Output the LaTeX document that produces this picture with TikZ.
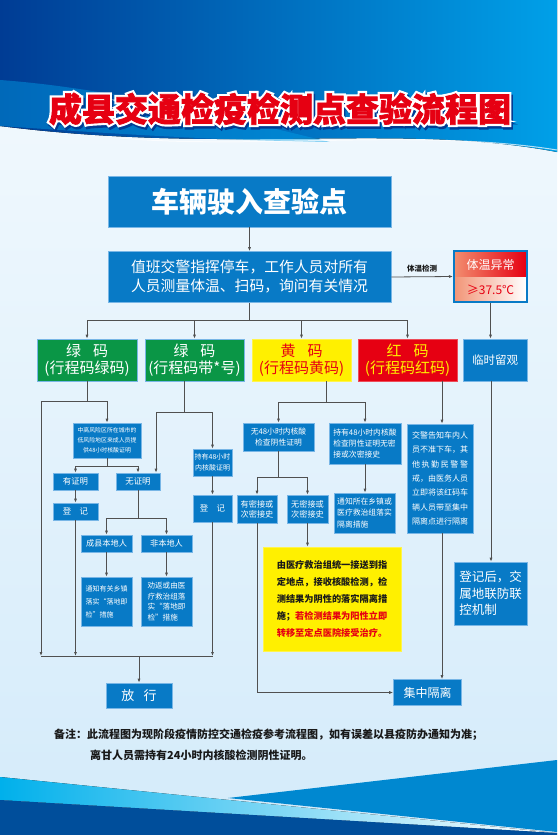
\documentclass[tikz,border=0pt]{standalone}
\usepackage{fontspec}
\setmainfont{Noto Sans CJK SC}
\newfontfamily\titleout{Noto Sans CJK SC}[BoldFeatures={FakeBold=15}]
\newfontfamily\titlein{Noto Sans CJK SC}[BoldFeatures={FakeBold=2}]
\usetikzlibrary{arrows.meta,calc}
\definecolor{bx}{RGB}{8,122,198}
\definecolor{bxe}{RGB}{120,182,230}
\definecolor{gr}{RGB}{10,150,70}
\definecolor{ye}{RGB}{255,240,0}
\definecolor{rd}{RGB}{230,0,18}
\definecolor{lnc}{RGB}{80,80,80}
\definecolor{hd1}{RGB}{0,60,148}
\definecolor{hd2}{RGB}{0,160,232}
\definecolor{bg1}{RGB}{244,250,254}
\definecolor{bg2}{RGB}{212,235,250}
\definecolor{txt}{RGB}{25,25,25}
\begin{document}
\begin{tikzpicture}[x=1pt,y=-1pt,
  box/.style={draw=bxe, line width=0.6pt, fill=bx, text=white, inner sep=0pt, align=center, anchor=center},
  arr/.style={draw=lnc, line width=0.8pt, -{Latex[length=4pt,width=3pt]}},
  wire/.style={draw=lnc, line width=0.8pt},
  codefont/.style={font=\fontsize{15}{17}\selectfont}
]
\useasboundingbox (0,0) rectangle (557,835);
% background
\fill[top color=bg1, bottom color=bg2] (0,0) rectangle (557,835);
% header
\fill[left color=hd1, right color=hd2] (0,0) -- (557,0) -- (557,152) .. controls (400,122) and (230,155) .. (0,126) -- cycle;
\fill[color=hd2, opacity=0.45] (0,80) .. controls (110,88) and (230,118) .. (330,142) .. controls (200,140) and (90,132) .. (0,126) -- cycle;
\draw[white, opacity=0.7, line width=1pt] (120,138) .. controls (250,150) and (420,128) .. (557,150);
% bottom waves
\fill[color={rgb,255:red,0;green,136;blue,208}] (557,760) -- (228,798) -- (557,832) -- cycle;
\fill[left color={rgb,255:red,0;green,176;blue,235}, right color=white] (0,777) -- (557,833) -- (0,800) -- cycle;
\fill[color={rgb,255:red,0;green,78;blue,155}] (0,800) -- (557,833) -- (557,835) -- (0,835) -- cycle;

% title
\node[text=hd1, font=\fontsize{33}{33}\titleout\bfseries] (tshadow) at (281.5,111.5) {成县交通检疫检测点查验流程图};
\node[text=white, font=\fontsize{33}{33}\titleout\bfseries] (toutline) at (280,109) {成县交通检疫检测点查验流程图};
\node[text=rd, font=\fontsize{33}{33}\titlein\bfseries] (title) at (280,109) {成县交通检疫检测点查验流程图};

% top boxes
\node[box, minimum width=283pt, minimum height=51pt, font=\fontsize{28}{28}\bfseries] (start) at (249.5,201.5) {车辆驶入查验点};
\node[box, minimum width=283pt, minimum height=51pt, font=\fontsize{14.8}{19}\selectfont] (check) at (249.5,277) {值班交警指挥停车，工作人员对所有\\人员测量体温、扫码，询问有关情况};
\draw[arr] (start.south) -- (check.north);

% temperature box
\fill[left color={rgb,255:red,242;green,140;blue,110}, right color=rd] (455,252) rectangle (526,277);
\fill[left color={rgb,255:red,242;green,150;blue,120}, right color=white] (455,277) rectangle (526,301);
\node[draw=bx, line width=2pt, minimum width=73pt, minimum height=51pt, inner sep=0pt] (temp) at (490.5,276.5) {};
\node[text=white, font=\fontsize{12}{12}\selectfont] (tt1) at (490.5,264.5) {体温异常};
\node[text=rd, font=\fontsize{12}{12}\selectfont] (tt2) at (490.5,289.5) {≥37.5℃};
\draw[arr] (check.east) -- (temp.west) node[midway, above=1pt, font=\fontsize{7.5}{8}\bfseries, text=txt] (tlabel) {体温检测};

% code row
\node[box, fill=gr, minimum width=100pt, minimum height=42pt, codefont] (g1) at (87,360) {绿\hspace{0.8em}码\\(行程码绿码)};
\node[box, fill=gr, minimum width=99pt, minimum height=42pt, codefont] (g2) at (194.5,360) {绿\hspace{0.8em}码\\(行程码带*号)};
\node[box, fill=ye, draw=ye!70!white, text=rd, minimum width=99pt, minimum height=42pt, codefont] (yel) at (301.5,360) {黄\hspace{0.8em}码\\(行程码黄码)};
\node[box, fill=rd, draw=rd!70!white, text=ye, minimum width=99pt, minimum height=42pt, codefont] (red) at (407.5,360) {红\hspace{0.8em}码\\(行程码红码)};
\node[box, minimum width=64pt, minimum height=42pt, font=\fontsize{11.5}{14}\selectfont] (obs) at (495,360) {临时留观};

\coordinate (b0) at (249.5,320);
\draw[wire] (check.south) -- (b0);
\draw[wire] (g1.north |- b0) -- (red.north |- b0);
\draw[arr] (g1.north |- b0) -- (g1.north);
\draw[arr] (g2.north |- b0) -- (g2.north);
\draw[arr] (yel.north |- b0) -- (yel.north);
\draw[arr] (red.north |- b0) -- (red.north);
\draw[arr] (temp.south) -- (temp.south |- obs.north);

% green 1 branch
\node[box, minimum width=68pt, minimum height=35pt, font=\fontsize{5.9}{10}\selectfont] (zg) at (107,440.5) {中高风险区所在城市的\\低风险地区来成人员提\\供48小时核酸证明};
\node[box, minimum width=45pt, minimum height=17pt, font=\fontsize{8.4}{10}\selectfont] (yz) at (75.5,481.5) {有证明};
\node[box, minimum width=44pt, minimum height=17pt, font=\fontsize{8.4}{10}\selectfont] (wz) at (138,481.5) {无证明};
\node[box, minimum width=45pt, minimum height=17pt, font=\fontsize{8.4}{10}\selectfont] (dj1) at (75.5,511.5) {登\hspace{1em}记};
\node[box, minimum width=51pt, minimum height=17pt, font=\fontsize{8.2}{10}\selectfont] (local) at (106.5,543.5) {成县本地人};
\node[box, minimum width=51pt, minimum height=17pt, font=\fontsize{8.2}{10}\selectfont] (nonlocal) at (166.5,543.5) {非本地人};
\node[box, minimum width=51pt, minimum height=49pt, align=left, font=\fontsize{7}{13}\selectfont] (lnote) at (106.5,601.5) {通知有关乡镇\\落实“落地即\\检”措施};
\node[box, minimum width=51pt, minimum height=49pt, align=left, font=\fontsize{7.6}{10.7}\selectfont] (nnote) at (166.5,601.5) {劝返或由医\\疗救治组落\\实“落地即\\检”措施};

\coordinate (g1a) at (87,401);
\coordinate (g1l) at (41,401);
\coordinate (busL) at (41,656);
\draw[wire] (g1.south) -- (g1a);
\draw[wire] (g1l) -- (zg.north |- g1a);
\draw[arr] (zg.north |- g1a) -- (zg.north);
\draw[arr] (g1l) -- (busL);
\coordinate (zgb) at (107,466);
\draw[wire] (zg.south) -- (zgb);
\draw[wire] (yz.north |- zgb) -- (wz.north |- zgb);
\draw[arr] (yz.north |- zgb) -- (yz.north);
\draw[arr] (wz.north |- zgb) -- (wz.north);
\draw[arr] (yz.south) -- (dj1.north);
\draw[arr] (dj1.south) -- (dj1.south |- busL);
\coordinate (wzb) at (138,518);
\draw[wire] (wz.south) -- (wzb);
\draw[wire] (local.north |- wzb) -- (nonlocal.north |- wzb);
\draw[arr] (local.north |- wzb) -- (local.north);
\draw[arr] (nonlocal.north |- wzb) -- (nonlocal.north);
\draw[arr] (local.south) -- (lnote.north);
\draw[arr] (nonlocal.south) -- (nnote.north);

% green 2 branch
\node[box, minimum width=39pt, minimum height=27pt, font=\fontsize{7}{11}\selectfont] (c48) at (212.5,462.5) {持有48小时\\内核酸证明};
\node[box, minimum width=39pt, minimum height=27pt, font=\fontsize{8.4}{10}\selectfont] (dj2) at (212.5,508.5) {登\hspace{1em}记};
\coordinate (g2a) at (184,412);
\coordinate (g2l) at (156,412);
\draw[wire] ([xshift=-10.5pt]g2.south) -- (g2a);
\draw[wire] (g2l) -- (c48.north |- g2a);
\draw[arr] (g2l) -- (g2l |- wz.north);
\draw[arr] (c48.north |- g2a) -- (c48.north);
\draw[arr] (c48.south) -- (dj2.north);
\draw[arr] (dj2.south) -- (dj2.south |- busL);

% release
\node[box, minimum width=66pt, minimum height=25pt, font=\fontsize{13}{14}\selectfont] (fx) at (139,695.5) {放\hspace{0.7em}行};
\draw[wire] (busL) -- (dj2.south |- busL);
\draw[arr] (fx.north |- busL) -- (fx.north);

% yellow branch
\node[box, minimum width=71pt, minimum height=28pt, font=\fontsize{7.8}{10.5}\selectfont] (n48) at (278.5,437) {无48小时内核酸\\检查阴性证明};
\node[box, minimum width=72pt, minimum height=41pt, align=left, font=\fontsize{7.8}{11}\selectfont] (h48) at (365,443.5) {持有48小时内核酸\\检查阴性证明无密\\接或次密接史};
\node[box, minimum width=40pt, minimum height=28pt, font=\fontsize{8.2}{10}\selectfont] (ymj) at (257,509) {有密接或\\次密接史};
\node[box, minimum width=41pt, minimum height=28pt, font=\fontsize{8.2}{10}\selectfont] (wmj) at (307.5,509) {无密接或\\次密接史};
\node[box, minimum width=61pt, minimum height=40pt, align=left, font=\fontsize{7.8}{11.5}\selectfont] (tz) at (364.5,513) {通知所在乡镇或\\医疗救治组落实\\隔离措施};
\node[box, fill=ye, draw=ye!70!white, text=txt, minimum width=138pt, minimum height=104pt, align=left, font=\fontsize{9.2}{16.8}\bfseries] (ybig) at (332,599) {由医疗救治组统一接送到指\\定地点，接收核酸检测，检\\测结果为阴性的落实隔离措\\施；\textcolor{rd}{若检测结果为阳性立即}\\\textcolor{rd}{转移至定点医院接受治疗。}};
\coordinate (ya) at (326,402);
\draw[wire] ([xshift=24.5pt]yel.south) -- (ya);
\draw[wire] (n48.north |- ya) -- (h48.north |- ya);
\draw[arr] (n48.north |- ya) -- (n48.north);
\draw[arr] (h48.north |- ya) -- (h48.north);
\coordinate (nb) at (278.5,477);
\draw[wire] (n48.south) -- (nb);
\draw[wire] (ymj.north |- nb) -- (wmj.north |- nb);
\draw[arr] (ymj.north |- nb) -- (ymj.north);
\draw[arr] (wmj.north |- nb) -- (wmj.north);
\draw[arr] (h48.south) -- (h48.south |- tz.north);
\draw[arr] (wmj.south) -- (wmj.south |- ybig.north);

% isolation
\node[box, minimum width=68pt, minimum height=26pt, font=\fontsize{12}{13}\selectfont] (jz) at (427.5,692.5) {集中隔离};
\draw[arr] (ymj.south) |- (jz.west);

% red branch
\node[box, minimum width=66pt, minimum height=109pt, font=\fontsize{8}{14.3}\selectfont] (jg) at (440,478.5) {交警告知车内人\\员不准下车，其\\他\hspace{1.6pt}执\hspace{1.6pt}勤\hspace{1.6pt}民\hspace{1.6pt}警\hspace{1.6pt}警\\戒，由医务人员\\立即将该红码车\\辆人员带至集中\\隔离点进行隔离};
\draw[arr] ([xshift=34.5pt]red.south) -- ([xshift=34.5pt]red.south |- jg.north);
\draw[arr] ([xshift=2pt]jg.south) -- ([xshift=2pt]jg.south |- jz.north);

% observation branch
\node[box, minimum width=73pt, minimum height=63pt, align=left, font=\fontsize{12.5}{16.5}\selectfont] (dgh) at (490.5,593.5) {登记后，交\\属地联防联\\控机制};
\draw[arr] ([xshift=-4pt]obs.south) -- ([xshift=-4pt]obs.south |- dgh.north);

% notes
\node[anchor=west, inner sep=0pt, text=txt, font=\fontsize{11}{13}\bfseries] (note1) at (54,735) {备注：此流程图为现阶段疫情防控交通检疫参考流程图，如有误差以县疫防办通知为准；};
\node[anchor=west, inner sep=0pt, text=txt, font=\fontsize{11}{13}\bfseries] (note2) at (90,755) {离甘人员需持有24小时内核酸检测阴性证明。};
\end{tikzpicture}
\end{document}
